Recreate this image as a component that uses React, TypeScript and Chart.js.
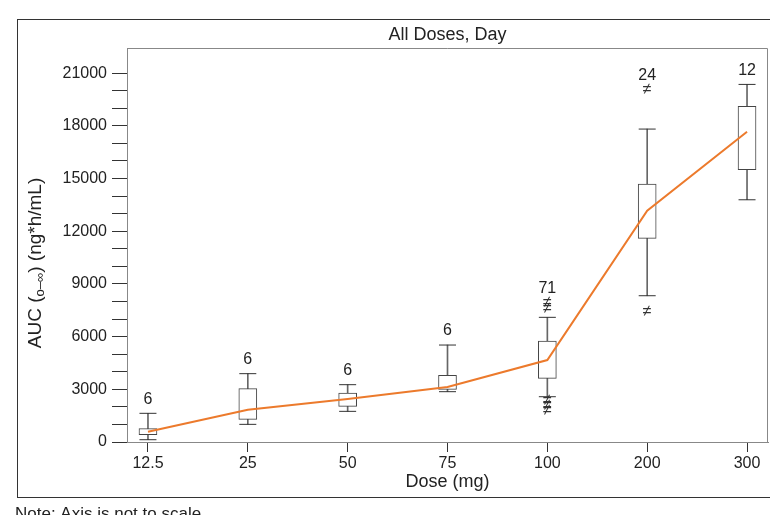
import React, { useEffect, useRef } from 'react';
import { Chart, registerables } from 'chart.js';

Chart.register(...registerables);

// ---- Data ----
const doseLabels = ['12.5', '25', '50', '75', '100', '200', '300'];
const nCounts = ['6', '6', '6', '6', '71', '24', '12'];
const whiskerLow = [130, 1005, 1745, 2865, 2578, 8327, 13790];
const boxLow = [416, 1290, 2030, 2995, 3625, 11593, 15500];
const boxHigh = [757, 3035, 2790, 3795, 5748, 14684, 19105];
const whiskerHigh = [1633, 3890, 3263, 5520, 7097, 17815, 20357];
const meanLine = [586, 1840, 2447, 3130, 4667, 13166, 17660];
const outlierDose = [4, 4, 4, 4, 4, 5, 5];
const outlierValue = [7911, 7570, 2333, 2049, 1764, 20090, 7417];
const yTickValues = [
  0, 1000, 2000, 3000, 4000, 5000, 6000, 7000, 8000, 9000, 10000,
  11000, 12000, 13000, 14000, 15000, 16000, 17000, 18000, 19000, 20000, 21000,
];
const yTickLabels = [
  '0', '', '', '3000', '', '', '6000', '', '', '9000', '', '',
  '12000', '', '', '15000', '', '', '18000', '', '', '21000',
];

const FONT = '"Liberation Sans", Arial, Helvetica, sans-serif';
const TEXT = '#222';

const decorPlugin = {
  id: 'decor',
  afterDatasetsDraw(chart: any) {
    const { ctx, scales, chartArea } = chart;
    const xs = scales.x;
    const ys = scales.y;
    ctx.save();
    // plot border top/right
    ctx.strokeStyle = '#888';
    ctx.lineWidth = 1;
    ctx.beginPath();
    ctx.moveTo(chartArea.left, chartArea.top + 0.5);
    ctx.lineTo(chartArea.right - 0.5, chartArea.top + 0.5);
    ctx.lineTo(chartArea.right - 0.5, chartArea.bottom);
    ctx.stroke();

    // outliers (≠)
    ctx.fillStyle = '#333';
    ctx.font = `16px ${FONT}`;
    ctx.textAlign = 'center';
    ctx.textBaseline = 'middle';
    outlierValue.forEach((v, k) => {
      ctx.fillText('≠', xs.getPixelForValue(outlierDose[k]), ys.getPixelForValue(v));
    });

    // N labels
    ctx.fillStyle = TEXT;
    ctx.font = `16px ${FONT}`;
    doseLabels.forEach((_, i) => {
      let top = whiskerHigh[i];
      outlierValue.forEach((v, k) => {
        if (outlierDose[k] === i && v > top) top = v;
      });
      ctx.fillText(nCounts[i], xs.getPixelForValue(i), ys.getPixelForValue(top) - 14);
    });
    ctx.restore();
  },
  afterDraw(chart: any) {
    const { ctx, chartArea } = chart;
    ctx.save();
    // outer frame
    ctx.strokeStyle = '#333';
    ctx.lineWidth = 1;
    ctx.strokeRect(17.5, 19.5, 800, 478);

    ctx.fillStyle = TEXT;
    ctx.textAlign = 'center';
    ctx.textBaseline = 'middle';
    // title
    ctx.font = `18px ${FONT}`;
    ctx.fillText('All Doses, Day', (chartArea.left + chartArea.right) / 2, 35);
    // x title
    ctx.fillText('Dose (mg)', (chartArea.left + chartArea.right) / 2, 482);

    // y title with subscript
    const parts: [string, string, number][] = [
      ['AUC (', `19px ${FONT}`, 0],
      ['o–∞', `13px ${FONT}`, 4],
      [') (ng*h/mL)', `19px ${FONT}`, 0],
    ];
    let total = 0;
    parts.forEach(([t, f]) => {
      ctx.font = f;
      total += ctx.measureText(t).width;
    });
    ctx.translate(36, 263);
    ctx.rotate(-Math.PI / 2);
    ctx.textAlign = 'left';
    let x = -total / 2;
    parts.forEach(([t, f, dy]) => {
      ctx.font = f;
      ctx.fillText(t, x, dy);
      x += ctx.measureText(t).width;
    });
    ctx.setTransform(1, 0, 0, 1, 0, 0);

    // note
    ctx.textAlign = 'left';
    ctx.textBaseline = 'alphabetic';
    ctx.font = `17px ${FONT}`;
    ctx.fillText('Note: Axis is not to scale', 15, 519);
    ctx.restore();
  },
};

export default function App() {
  const ref = useRef<HTMLCanvasElement | null>(null);

  useEffect(() => {
    if (!ref.current) return;
    Chart.defaults.font.family = FONT;
    Chart.defaults.color = TEXT;
    const idx = doseLabels.map((_, i) => i);

    const chart = new Chart(ref.current, {
      type: 'bar',
      data: {
        datasets: [
          {
            type: 'line',
            data: idx.map((i) => ({ x: i, y: meanLine[i] })),
            borderColor: '#EC7A2C',
            borderWidth: 2,
            pointRadius: 0,
            tension: 0,
            order: 0,
          } as any,
          {
            type: 'scatter',
            data: idx.flatMap((i) => [
              { x: i, y: whiskerLow[i] },
              { x: i, y: whiskerHigh[i] },
            ]),
            pointStyle: 'line',
            pointRadius: 8.5,
            borderColor: '#333',
            borderWidth: 1,
            backgroundColor: '#333',
            order: 1,
          } as any,
          {
            type: 'bar',
            data: idx.map((i) => ({ x: i, y: [boxLow[i], boxHigh[i]] })),
            backgroundColor: '#fff',
            borderColor: '#444',
            borderWidth: 1,
            borderSkipped: false,
            barThickness: 18,
            grouped: false,
            order: 2,
          } as any,
          {
            type: 'bar',
            data: idx.map((i) => ({ x: i, y: [whiskerLow[i], whiskerHigh[i]] })),
            backgroundColor: '#666',
            borderWidth: 0,
            barThickness: 1,
            grouped: false,
            order: 3,
          } as any,
        ],
      },
      options: {
        responsive: false,
        devicePixelRatio: 1,
        animation: false,
        events: [],
        layout: { autoPadding: false, padding: { left: 0, top: 48, right: 2, bottom: 0 } },
        plugins: {
          legend: { display: false },
          tooltip: { enabled: false },
          title: { display: false },
        },
        scales: {
          x: {
            type: 'linear',
            min: -0.21,
            max: 6.21,
            offset: false,
            afterBuildTicks: (s: any) => {
              s.ticks = idx.map((i) => ({ value: i }));
            },
            afterFit: (s: any) => {
              s.height = 73;
              s.paddingLeft = 0;
              s.paddingRight = 0;
            },
            ticks: {
              autoSkip: false,
              maxRotation: 0,
              padding: 2,
              color: TEXT,
              font: { size: 16, family: FONT },
              callback: (v: any) => doseLabels[v] ?? '',
            },
            grid: {
              offset: false,
              drawOnChartArea: false,
              drawTicks: true,
              tickLength: 10,
              tickColor: '#333',
            },
            border: { display: true, color: '#888', width: 1 },
          },
          y: {
            type: 'linear',
            min: 0,
            max: 22430,
            afterBuildTicks: (s: any) => {
              s.ticks = yTickValues.map((v) => ({ value: v }));
            },
            afterFit: (s: any) => {
              s.width = 127;
              s.paddingTop = 0;
              s.paddingBottom = 0;
            },
            ticks: {
              autoSkip: false,
              padding: 5,
              color: TEXT,
              font: { size: 16, family: FONT },
              callback: (_v: any, i: number) => yTickLabels[i] ?? '',
            },
            grid: {
              drawOnChartArea: false,
              drawTicks: true,
              tickLength: 15,
              tickColor: '#333',
            },
            border: { display: true, color: '#888', width: 1 },
          },
        },
      } as any,
      plugins: [decorPlugin],
    });
    return () => chart.destroy();
  }, []);

  return (
    <div style={{ position: 'absolute', left: 0, top: 0, width: 770, height: 515, background: '#fff' }}>
      <canvas ref={ref} width={770} height={515} style={{ display: 'block' }} />
    </div>
  );
}
